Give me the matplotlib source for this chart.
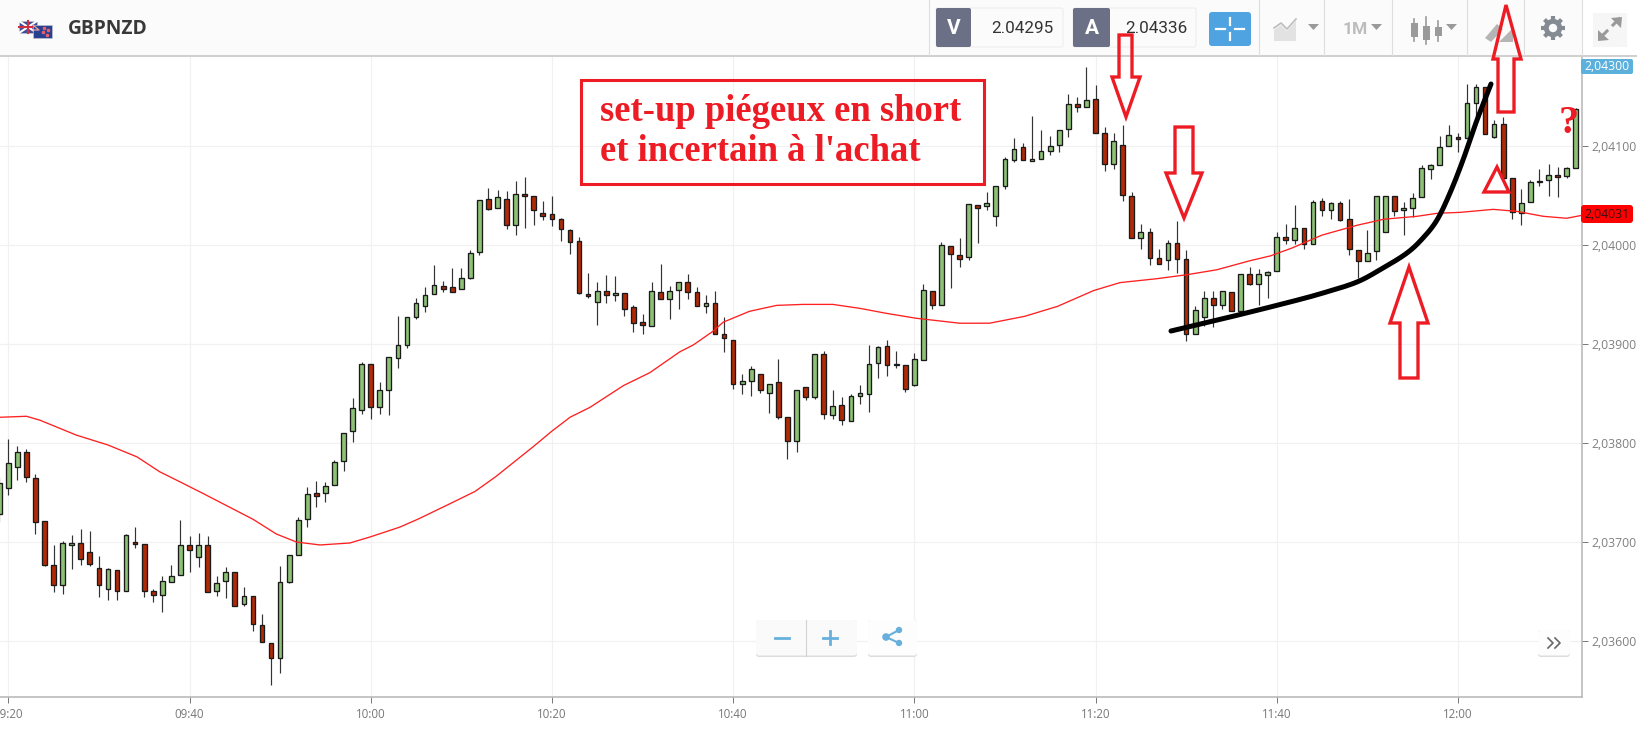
import numpy as np
import matplotlib
matplotlib.use('Agg')
import matplotlib.pyplot as plt
from matplotlib.patches import Polygon, Rectangle, FancyBboxPatch, Circle

# 1 minute candles from 09:19 to 12:13, prices as points above 2.03000
opens = [728, 755, 776, 791, 765, 721, 677, 657, 697, 699,
         690, 674, 653, 672, 651, 700, 698, 651, 646, 660,
         667, 697, 685, 697, 651, 661, 670, 637, 645, 616,
         598, 583, 660, 687, 723, 749, 749, 758, 782, 812,
         833, 880, 836, 854, 886, 899, 927, 938, 951, 959,
         958, 956, 967, 993, 1046, 1037, 1046, 1020, 1052, 1049,
         1032, 1031, 1026, 1015, 1004, 951, 942, 954, 949, 952,
         937, 922, 918, 953, 945, 955, 963, 953, 938, 941,
         910, 904, 860, 863, 870, 851, 862, 826, 802, 857,
         846, 890, 828, 838, 822, 847, 849, 881, 898, 879,
         879, 859, 884, 954, 939, 999, 990, 988, 1040, 1039,
         1029, 1060, 1086, 1099, 1085, 1087, 1095, 1101, 1117, 1142,
         1139, 1147, 1113, 1082, 1101, 1050, 1007, 1013, 987, 985,
         1002, 986, 910, 927, 946, 939, 953, 933, 971, 961,
         970, 974, 1008, 1005, 1017, 1001, 1044, 1035, 1042, 1026,
         995, 984, 994, 1013, 1049, 1035, 1037, 1048, 1077, 1081,
         1100, 1109, 1108, 1143, 1160, 1109, 1122, 1068, 1032, 1043,
         1064, 1066, 1071, 1070, 1078]
closes = [760, 780, 791, 766, 720, 677, 657, 699, 699, 683,
          678, 657, 673, 651, 707, 698, 651, 646, 661, 666,
          697, 692, 697, 650, 659, 670, 635, 645, 617, 599,
          583, 660, 687, 722, 748, 746, 757, 781, 810, 835,
          880, 836, 854, 887, 899, 927, 941, 950, 960, 956,
          953, 967, 992, 1045, 1036, 1048, 1020, 1052, 1050, 1035,
          1029, 1026, 1016, 1003, 952, 948, 954, 949, 952, 935,
          921, 919, 954, 945, 954, 963, 953, 938, 941, 910,
          906, 860, 863, 875, 854, 860, 826, 802, 854, 846,
          890, 829, 837, 823, 847, 851, 880, 897, 879, 880,
          855, 885, 955, 939, 1000, 991, 986, 1041, 1037, 1042,
          1060, 1087, 1097, 1086, 1087, 1095, 1100, 1116, 1142, 1139,
          1146, 1113, 1082, 1105, 1051, 1007, 1013, 987, 981, 1002,
          986, 910, 934, 946, 939, 954, 933, 971, 961, 971,
          973, 1008, 1005, 1017, 1001, 1043, 1035, 1042, 1025, 996,
          984, 992, 1049, 1049, 1034, 1037, 1047, 1078, 1081, 1099,
          1111, 1107, 1143, 1160, 1112, 1122, 1068, 1033, 1042, 1064,
          1065, 1071, 1069, 1078, 1137]
highs = [766, 804, 797, 794, 769, 721, 697, 701, 707, 713,
         711, 686, 674, 672, 708, 715, 698, 653, 666, 677,
         722, 706, 709, 706, 666, 675, 670, 655, 645, 627,
         598, 676, 687, 725, 756, 762, 761, 783, 810, 845,
         882, 880, 862, 887, 928, 927, 946, 958, 980, 964,
         977, 977, 995, 1045, 1058, 1056, 1055, 1065, 1069, 1049,
         1044, 1050, 1027, 1016, 1008, 972, 963, 970, 969, 952,
         939, 930, 963, 981, 959, 963, 971, 958, 950, 954,
         927, 904, 870, 878, 870, 860, 885, 826, 854, 857,
         890, 893, 854, 846, 849, 859, 899, 898, 904, 893,
         879, 891, 961, 954, 1003, 999, 1007, 1041, 1040, 1054,
         1060, 1089, 1108, 1103, 1130, 1116, 1110, 1116, 1153, 1150,
         1180, 1162, 1119, 1113, 1121, 1054, 1021, 1017, 996, 1005,
         1024, 995, 938, 954, 954, 954, 953, 971, 978, 976,
         974, 1013, 1021, 1040, 1017, 1045, 1047, 1043, 1044, 1046,
         995, 1015, 1049, 1049, 1049, 1043, 1053, 1081, 1082, 1110,
         1121, 1113, 1163, 1163, 1160, 1126, 1129, 1068, 1057, 1066,
         1077, 1082, 1079, 1079, 1138]
lows = [720, 747, 763, 761, 708, 676, 650, 647, 673, 677,
        676, 644, 641, 641, 651, 694, 644, 639, 629, 660,
        667, 670, 675, 650, 645, 643, 635, 635, 610, 599,
        556, 568, 659, 687, 715, 735, 740, 758, 772, 801,
        829, 824, 829, 828, 876, 896, 925, 932, 951, 953,
        953, 956, 966, 990, 1035, 1037, 1016, 1010, 1017, 1020,
        1025, 1019, 1004, 991, 951, 946, 919, 941, 943, 928,
        912, 910, 918, 945, 925, 935, 945, 938, 931, 910,
        892, 855, 849, 847, 851, 830, 824, 784, 791, 843,
        844, 824, 824, 818, 822, 839, 831, 866, 868, 876,
        852, 858, 884, 935, 939, 957, 978, 985, 1002, 1035,
        1019, 1057, 1084, 1086, 1085, 1087, 1091, 1094, 1109, 1134,
        1139, 1113, 1075, 1077, 1044, 1007, 996, 980, 981, 975,
        972, 903, 910, 918, 917, 935, 933, 933, 960, 939,
        946, 974, 1001, 1001, 996, 1001, 1029, 1026, 1024, 990,
        967, 984, 985, 1013, 1029, 1010, 1028, 1048, 1067, 1081,
        1100, 1094, 1108, 1128, 1112, 1108, 1068, 1026, 1020, 1043,
        1060, 1050, 1048, 1068, 1078]

# moving average, minutes after 09:20 and same price points
ma_minutes = [-0.9, 2, 3.5, 7.5, 11, 14.2, 16.7, 18.9, 21.5, 27, 29.6, 31.8, 34.4, 37.7, 39.9, 43.2,
              45.2, 48.6, 51.5, 53.8, 57.9, 60, 62, 64.2, 67.9, 70.8, 74.1, 75.6, 77.8, 78.9,
              81.8, 84.8, 87.7, 91, 94, 96.9, 100.2, 105, 108.3, 112.2, 115.8, 119.8, 122.7, 126.8, 130.1,
              133.4, 137, 139.3, 141.7, 145, 148.9, 151.8, 155.5, 157.7, 160.3, 163.9, 166.5, 169.4, 172, 173.7]
ma_points = [826, 827, 823, 808, 798, 786, 771, 761, 749, 723, 708, 700, 697, 699, 705, 715,
             723, 738, 751, 766, 796, 812, 826, 836, 858, 871, 892, 899, 913, 922,
             933, 939, 940, 940, 936, 931, 926, 921, 921, 928, 938, 954, 962, 966, 970,
             975, 984, 989, 997, 1010, 1020, 1026, 1029, 1032, 1033, 1036, 1034, 1029, 1027, 1030]

time_ticks = list(range(0, 180, 20))
time_labels = ['09:20', '09:40', '10:00', '10:20', '10:40', '11:00', '11:20', '11:40', '12:00']
price_ticks = [2.036, 2.037, 2.038, 2.039, 2.040, 2.041]
price_labels = ['2,03600', '2,03700', '2,03800', '2,03900', '2,04000', '2,04100']

RED_PEN = '#ed1c24'
UI_FONT = 'Roboto'
GRAY_ICON = '#9a9a9a'

W, H = 1637, 729
fig = plt.figure(figsize=(W / 100, H / 100), dpi=100, facecolor='white')
ax = fig.add_axes([0, (H - 697) / H, 1582 / W, 640 / H])

to_price = lambda p: 2.03 + np.asarray(p, dtype=float) * 1e-5
o, c, hi, lo = to_price(opens), to_price(closes), to_price(highs), to_price(lows)
minutes = np.arange(len(o)) - 1
is_up = c >= o

ax.vlines(minutes, lo, hi, color='#333333', lw=0.85, zorder=2)
ax.bar(minutes, np.maximum(np.abs(c - o), 1e-6), bottom=np.minimum(o, c), width=0.52,
       color=np.where(is_up, '#8cc176', '#b02a05'), edgecolor='#1a1a1a', linewidth=0.95, zorder=3)
ax.plot(ma_minutes, to_price(ma_points), color='#ff2020', lw=0.95, zorder=4)

ax.set_xlim(-8.3 / 9.06, (1582 - 8.3) / 9.06)
ax.set_ylim(to_price(1000 - (697 - 245) / 0.99), to_price(1000 + (245 - 57) / 0.99))
ax.set_xticks(time_ticks)
ax.set_xticklabels(time_labels)
ax.set_yticks(price_ticks)
ax.set_yticklabels(price_labels)
ax.yaxis.tick_right()
ax.grid(True, color='#f1f1f1', lw=0.9)
ax.set_axisbelow(True)
ax.tick_params(axis='x', length=4, width=0.7, color='#777777', labelcolor='#777777', labelsize=8.3, pad=4)
ax.tick_params(axis='y', length=4, width=0.7, color='#777777', labelcolor='#808080', labelsize=8.8, pad=3)
for lab in ax.get_xticklabels() + ax.get_yticklabels():
    lab.set_family('Open Sans')
for side in ['top', 'left']:
    ax.spines[side].set_visible(False)
for side in ['bottom', 'right']:
    ax.spines[side].set_color('#b5b5b5')
    ax.spines[side].set_linewidth(1.1)

# overlay in image pixels, for the toolbar and the hand drawn marks
ov = fig.add_axes([0, 0, 1, 1], zorder=10)
ov.set_xlim(0, W)
ov.set_ylim(H, 0)
ov.axis('off')
ov.patch.set_alpha(0)


def box(x0, y0, x1, y1, fc, ec='none', lw=0.7, r=2.0, z=1):
    ov.add_patch(FancyBboxPatch((x0 + r, y0 + r), x1 - x0 - 2 * r, y1 - y0 - 2 * r,
                                boxstyle=f'round,pad={r}', fc=fc, ec=ec, lw=lw, zorder=z))


def smooth_curve(xs, ys, steps=14):
    # catmull-rom through the hand drawn points
    p = np.column_stack([xs, ys]).astype(float)
    p = np.vstack([p[0], p, p[-1]])
    out = []
    for i in range(1, len(p) - 2):
        for t in np.linspace(0, 1, steps):
            out.append(0.5 * (2 * p[i] + (p[i + 1] - p[i - 1]) * t
                              + (2 * p[i - 1] - 5 * p[i] + 4 * p[i + 1] - p[i + 2]) * t ** 2
                              + (3 * p[i] - p[i - 1] - 3 * p[i + 1] + p[i + 2]) * t ** 3))
    return np.array(out)


# toolbar
ov.add_patch(Rectangle((0, 0), 1582, 56, fc='#fbfbfb', ec='none', zorder=0))
ov.add_patch(Rectangle((1582, 0), W - 1582, 56, fc='white', ec='none', zorder=0))
ov.plot([0, W], [56, 56], color='#cfcfcf', lw=1.4, zorder=1)
for sx in [929, 1259, 1324, 1392, 1467, 1524, 1582]:
    ov.plot([sx, sx], [0, 55], color='#dedede', lw=0.8, zorder=1)

# flags
ov.add_patch(Rectangle((19, 21), 18, 12, fc='#3c4f9c', ec='#cccccc', lw=0.4, zorder=2))
ov.plot([19, 37], [21, 33], color='white', lw=1.5, zorder=3)
ov.plot([19, 37], [33, 21], color='white', lw=1.5, zorder=3)
ov.plot([28, 28], [21, 33], color='#d0303f', lw=1.5, zorder=4)
ov.plot([19, 37], [27, 27], color='#d0303f', lw=1.5, zorder=4)
ov.add_patch(Rectangle((33, 25), 19, 13, fc='#27408f', ec='#cccccc', lw=0.4, zorder=5))
ov.plot([33, 39, 33], [25, 30, 30], color='#e8a0a8', lw=0.9, zorder=6)
ov.scatter([44, 48, 43, 47], [28, 30, 32, 35], s=2.5, color='#e86070', zorder=6)
ov.text(68, 29, 'GBPNZD', fontsize=13.8, fontweight='bold', color='#383838', family='Open Sans', va='center', zorder=3)

for x0, x1, x2, letter, val in [(936, 971, 1063, 'V', '2.04295'), (1073, 1110, 1196, 'A', '2.04336')]:
    box(x0, 8, x2, 47, '#fbfbfb', ec='#ececec')
    box(x0, 8, x1, 47, '#6c7086')
    ov.text((x0 + x1) / 2, 28, letter, color='white', fontsize=15, fontweight='bold', family=UI_FONT,
            ha='center', va='center', zorder=3)
    ov.text(x2 - 9, 28, val, color='#333333', fontsize=12.3, family=UI_FONT, ha='right', va='center', zorder=3)

box(1209, 12, 1251, 46, '#4ea3e0', r=3)
for seg in [([1230, 1230], [18, 25]), ([1230, 1230], [33, 40]), ([1216, 1225], [29, 29]), ([1235, 1244], [29, 29])]:
    ov.plot(seg[0], seg[1], color='white', lw=1.6, zorder=3)

# chart type icon
ov.add_patch(Polygon([(1274, 41), (1274, 30), (1281, 25), (1287, 31), (1296, 21), (1296, 41)], fc='#e2e2e2', ec='none', zorder=2))
ov.plot([1274, 1281, 1287, 1296], [28, 23, 29, 19], color='#bdbdbd', lw=1.2, zorder=3)
ov.add_patch(Polygon([(1308, 24), (1319, 24), (1313.5, 30)], fc=GRAY_ICON, ec='none', zorder=3))
ov.text(1355, 29, '1M', fontsize=12.5, fontweight='bold', color='#bcbcbc', family=UI_FONT, ha='center', va='center', zorder=3)
ov.add_patch(Polygon([(1371, 24), (1382, 24), (1376.5, 30)], fc=GRAY_ICON, ec='none', zorder=3))
# candles icon
for cx, y0, y1, t0, t1 in [(1414, 23, 37, 19, 41), (1426, 26, 40, 17, 44), (1438, 27, 36, 21, 41)]:
    ov.plot([cx, cx], [t0, t1], color=GRAY_ICON, lw=1.2, zorder=2)
    ov.add_patch(Rectangle((cx - 3.5, y0), 7, y1 - y0, fc=GRAY_ICON, ec='none', zorder=3))
ov.add_patch(Polygon([(1446, 24), (1457, 24), (1451.5, 30)], fc=GRAY_ICON, ec='none', zorder=3))
# drawing tool icon
ov.add_patch(Polygon([(1485, 38), (1497, 24), (1503, 29), (1491, 42)], fc='#b5b5b5', ec='none', zorder=2))
ov.add_patch(Polygon([(1499, 42), (1513, 28), (1513, 42)], fc='#b5b5b5', ec='none', zorder=2))
# gear
for ang in np.arange(8) * np.pi / 4:
    ov.plot([1553 + 6 * np.cos(ang), 1553 + 12 * np.cos(ang)], [28 + 6 * np.sin(ang), 28 + 12 * np.sin(ang)],
            color='#858b93', lw=3.0, solid_capstyle='butt', zorder=3)
ov.add_patch(Circle((1553, 28), 9.2, fc='#858b93', ec='none', zorder=3))
ov.add_patch(Circle((1553, 28), 4.2, fc='#fbfbfb', ec='none', zorder=4))
# expand
ov.add_patch(Rectangle((1593, 13), 34, 34, fc='#f6f6f6', ec='none', zorder=1))
ov.plot([1601, 1607], [37, 31], color=GRAY_ICON, lw=2.2, zorder=2)
ov.plot([1613, 1619], [25, 19], color=GRAY_ICON, lw=2.2, zorder=2)
ov.add_patch(Polygon([(1611, 18), (1622, 17), (1621, 28)], fc=GRAY_ICON, ec='none', zorder=3))
ov.add_patch(Polygon([(1598, 30), (1598, 41), (1609, 40)], fc=GRAY_ICON, ec='none', zorder=3))

# price badges
box(1581, 59, 1633, 74, '#5bb0dc', r=2)
ov.text(1607, 66.5, '2,04300', color='white', fontsize=8.8, family='Open Sans', ha='center', va='center', zorder=3)
box(1581, 205, 1633, 223, '#ff0000', r=3)
ov.text(1607, 214, '2,04031', color='#3a1010', fontsize=8.8, family='Open Sans', ha='center', va='center', zorder=3)

# zoom and share buttons
box(756, 620, 857, 657, '#dcdcdc', r=3)
box(756, 620, 857, 655.5, '#fafafa', r=3, z=2)
box(868, 620, 917, 657, '#dcdcdc', r=3)
box(868, 620, 917, 655.5, '#fdfdfd', r=3, z=2)
ov.plot([806, 806], [620, 656], color='#d2d2d2', lw=0.8, zorder=3)
ov.plot([775, 789], [637.5, 637.5], color='#68b0dc', lw=2.0, zorder=3)
ov.plot([823, 837], [637.5, 637.5], color='#68b0dc', lw=2.0, zorder=3)
ov.plot([830, 830], [631, 644], color='#68b0dc', lw=2.0, zorder=3)
ov.plot([899, 886, 899], [630, 637, 643], color='#68b0dc', lw=1.5, zorder=3)
for sx, sy, sr in [(899, 630, 3.2), (886, 637, 3.8), (899, 643, 3.2)]:
    ov.add_patch(Circle((sx, sy), sr, fc='#68b0dc', ec='none', zorder=4))

box(1538, 630, 1570, 657, '#dcdcdc', r=3)
box(1538, 630, 1570, 655.5, '#fdfdfd', r=3, z=2)
ov.plot([1548, 1553, 1548], [638, 643, 648], color='#666666', lw=1.2, zorder=3)
ov.plot([1555, 1560, 1555], [638, 643, 648], color='#666666', lw=1.2, zorder=3)

# hand drawn comment box
ov.add_patch(Rectangle((581, 80), 403, 103.5, fc='none', ec=RED_PEN, lw=2.2, zorder=6))
ov.text(600, 121, 'set-up piégeux en short', color=RED_PEN, fontsize=26.4, fontweight='bold',
        family='Liberation Serif', zorder=6)
ov.text(600, 161, "et incertain à l'achat", color=RED_PEN, fontsize=26.4, fontweight='bold',
        family='Liberation Serif', zorder=6)
ov.text(1569, 123, '?', color=RED_PEN, fontsize=29, fontweight='bold', family='Liberation Serif',
        ha='center', va='center', zorder=6)

# hand drawn arrows
arrows = [
    [(1119, 35), (1132, 35), (1132, 77), (1140, 77), (1126, 117), (1112, 77), (1119, 77)],
    [(1175, 127), (1193, 127), (1193, 173), (1202, 173), (1184, 218), (1166, 173), (1175, 173)],
    [(1400, 378), (1418, 378), (1418, 323), (1428, 323), (1409, 267), (1390, 323), (1400, 323)],
    [(1498, 112), (1514, 112), (1514, 59), (1521, 59), (1506, 5), (1493, 59), (1498, 59)],
    [(1497, 167), (1509, 192), (1484, 192)],
]
for pts in arrows:
    ov.add_patch(Polygon(pts, closed=True, fill=False, ec=RED_PEN, lw=2.4, joinstyle='miter', zorder=6))

# black hand drawn curve
curve_x = [1171, 1230, 1290, 1323, 1357, 1383, 1407, 1423, 1437, 1450, 1463, 1477, 1491]
curve_y = [331, 317, 302, 293, 282, 268, 253, 238, 220, 193, 160, 120, 84]
curve = smooth_curve(curve_x, curve_y)
ov.plot(curve[:, 0], curve[:, 1], color='black', lw=3.6, solid_capstyle='round', solid_joinstyle='round', zorder=5)

fig.savefig('out.png', dpi=100)
